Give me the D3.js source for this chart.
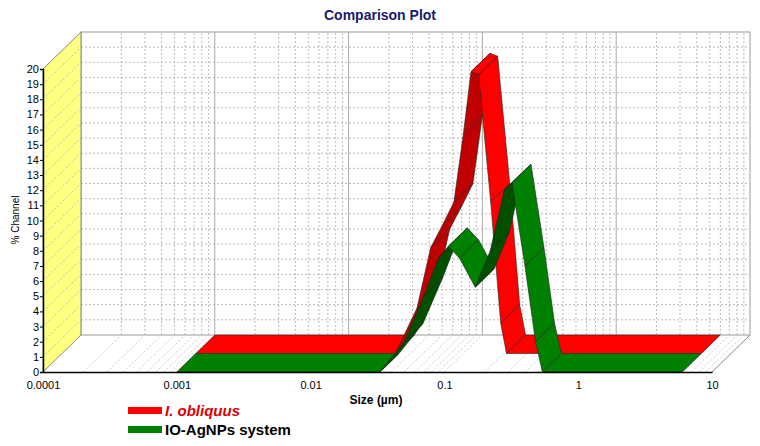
<!DOCTYPE html>
<html><head><meta charset="utf-8">
<script src="https://cdn.jsdelivr.net/npm/d3@7"></script>
<style>body{margin:0;background:#fff;font-family:"Liberation Sans",Arial,sans-serif;}</style>
</head><body><script>
(function () {

    //chart data
    var yTicks = d3.range(0, 21);
    var xTicks = [0.0001, 0.001, 0.01, 0.1, 1, 10];
    var redSize = [0.001, 0.031, 0.045, 0.057, 0.07, 0.085, 0.1, 0.114, 0.13, 0.16, 0.19, 0.21, 6];
    var redVal  = [0, 0, 3, 7, 8.5, 10, 14.5, 18.6, 18.4, 10, 2, 0, 0];
    var greenSize = [0.001, 0.033, 0.05, 0.07, 0.09, 0.107, 0.13, 0.17, 0.22, 0.28, 0.32, 0.4, 0.48, 0.54, 6];
    var greenVal  = [0, 0, 2, 5, 7.5, 8.3, 7.5, 5.6, 8, 12, 12.5, 7, 2, 0, 0];
    var series = [
        {name: "I. obliquus", size: redSize, val: redVal, d0: 0.5, d1: 1, light: "#ff0000", dark: "#c00000", text: "#e00000", italic: true},
        {name: "IO-AgNPs  system", size: greenSize, val: greenVal, d0: 0, d1: 0.5, light: "#008000", dark: "#005000", text: "#000", italic: false}
    ];

    var width = 760, height = 446;
    var depthX = 38, depthY = -37;

    var x = d3.scaleLog().domain([0.0001, 10]).range([43, 712]);
    var y = d3.scaleLinear().domain([0, 20]).range([372, 69]);

    //project value + depth (0 front, 1 back)
    function P(xv, yv, d) {
        return [x(xv) + depthX * d, y(yv) + depthY * d];
    }

    var svg = d3.select("body").append("svg")
        .attr("width", width).attr("height", height);

    //title
    svg.append("text").attr("x", 380).attr("y", 20).attr("text-anchor", "middle")
        .style("font-weight", "bold").style("font-size", "14px").style("fill", "#1a1a6e")
        .text("Comparison Plot");

    //back wall
    svg.append("rect").attr("x", P(0.0001, 20, 1)[0]).attr("y", P(0.0001, 20, 1)[1])
        .attr("width", x(10) - x(0.0001)).attr("height", y(0) - y(20))
        .style("fill", "#fff").style("stroke", "#999");

    //minor log ticks
    var minor = [];
    for (var e = -4; e < 1; e++) {
        for (var m = 2; m < 10; m++) minor.push(m * Math.pow(10, e));
    }
    //back wall vertical grid
    svg.selectAll(".vminor").data(minor).enter().append("line")
        .attr("x1", function (d) { return P(d, 0, 1)[0]; })
        .attr("x2", function (d) { return P(d, 0, 1)[0]; })
        .attr("y1", P(1, 0, 1)[1]).attr("y2", P(1, 20, 1)[1])
        .style("stroke", "#bbb").style("stroke-dasharray", "2,2");
    svg.selectAll(".vmajor").data(xTicks.slice(1, 5)).enter().append("line")
        .attr("x1", function (d) { return P(d, 0, 1)[0]; })
        .attr("x2", function (d) { return P(d, 0, 1)[0]; })
        .attr("y1", P(1, 0, 1)[1]).attr("y2", P(1, 20, 1)[1])
        .style("stroke", "#aaa");
    //back wall horizontal grid
    svg.selectAll(".hgrid").data(yTicks.slice(1, 20)).enter().append("line")
        .attr("x1", P(0.0001, 0, 1)[0]).attr("x2", P(10, 0, 1)[0])
        .attr("y1", function (d) { return P(1, d, 1)[1]; })
        .attr("y2", function (d) { return P(1, d, 1)[1]; })
        .style("stroke", "#bbb").style("stroke-dasharray", "2,2");

    //left wall
    var wall = [P(0.0001, 0, 0), P(0.0001, 20, 0), P(0.0001, 20, 1), P(0.0001, 0, 1)];
    svg.append("polygon").attr("points", wall.join(" "))
        .style("fill", "#ffff80").style("stroke", "#888");
    svg.selectAll(".wgrid").data(yTicks.slice(1, 20)).enter().append("line")
        .attr("x1", function (d) { return P(0.0001, d, 0)[0]; })
        .attr("y1", function (d) { return P(0.0001, d, 0)[1]; })
        .attr("x2", function (d) { return P(0.0001, d, 1)[0]; })
        .attr("y2", function (d) { return P(0.0001, d, 1)[1]; })
        .style("stroke", "#bbb").style("stroke-dasharray", "2,2");

    //floor depth lines
    svg.selectAll(".fgrid").data(minor.concat(xTicks.slice(1, 5))).enter().append("line")
        .attr("x1", function (d) { return P(d, 0, 0)[0]; })
        .attr("y1", P(1, 0, 0)[1])
        .attr("x2", function (d) { return P(d, 0, 1)[0]; })
        .attr("y2", P(1, 0, 1)[1])
        .style("stroke", "#ccc").style("stroke-dasharray", "2,2");
    svg.append("polyline")
        .attr("points", [P(10, 0, 0), P(10, 0, 1)].join(" "))
        .style("stroke", "#888").style("fill", "none");

    //ribbons
    series.forEach(function (s) {
        var g = svg.append("g");
        for (var i = 0; i < s.size.length - 1; i++) {
            var a0 = P(s.size[i], s.val[i], s.d0), b0 = P(s.size[i + 1], s.val[i + 1], s.d0),
                b1 = P(s.size[i + 1], s.val[i + 1], s.d1), a1 = P(s.size[i], s.val[i], s.d1);
            g.append("polygon").attr("points", [a0, b0, b1, a1].join(" "))
                .style("fill", s.val[i + 1] > s.val[i] ? s.dark : s.light)
                .style("stroke", "#222").style("stroke-width", 0.6)
                .style("stroke-linejoin", "round");
        }
    });

    //axes
    var yAxis = d3.axisLeft(y).tickValues(yTicks).tickSize(3).tickFormat(d3.format("d"));
    svg.append("g").attr("transform", "translate(43,0)").call(yAxis)
        .call(function (g) { g.select(".domain").style("stroke", "#000").style("stroke-width", 1.5); })
        .selectAll("text").style("font-size", "11px").style("font-family", "Liberation Sans, Arial").attr("x", -4);
    var xAxis = d3.axisBottom(x).tickValues(xTicks).tickSize(0).tickFormat(function (d) { return String(+d.toPrecision(1)); });
    svg.append("g").attr("transform", "translate(0,372)").call(xAxis)
        .call(function (g) { g.select(".domain").style("stroke", "#000").style("stroke-width", 1.5); })
        .selectAll("text").style("font-size", "11px").style("font-family", "Liberation Sans, Arial").attr("dy", "1.3em");

    //axis titles
    svg.append("text").attr("transform", "translate(19,220) rotate(-90)").attr("text-anchor", "middle")
        .style("font-size", "10px").text("% Channel");
    svg.append("text").attr("x", 376).attr("y", 404).attr("text-anchor", "middle")
        .style("font-size", "12px").style("font-weight", "bold").text("Size (\u00b5m)");

    //legend
    var leg = svg.selectAll(".leg").data(series).enter().append("g")
        .attr("transform", function (d, i) { return "translate(128," + (411 + i * 19) + ")"; });
    leg.append("rect").attr("x", 0).attr("y", -4).attr("width", 34).attr("height", 7)
        .style("fill", function (d) { return d.light; });
    leg.append("text").attr("x", 37).attr("y", 5)
        .style("font-size", "15px").style("font-weight", "bold")
        .style("font-style", function (d) { return d.italic ? "italic" : "normal"; })
        .style("fill", function (d) { return d.text; })
        .text(function (d) { return d.name; });

})();
</script></body></html>
